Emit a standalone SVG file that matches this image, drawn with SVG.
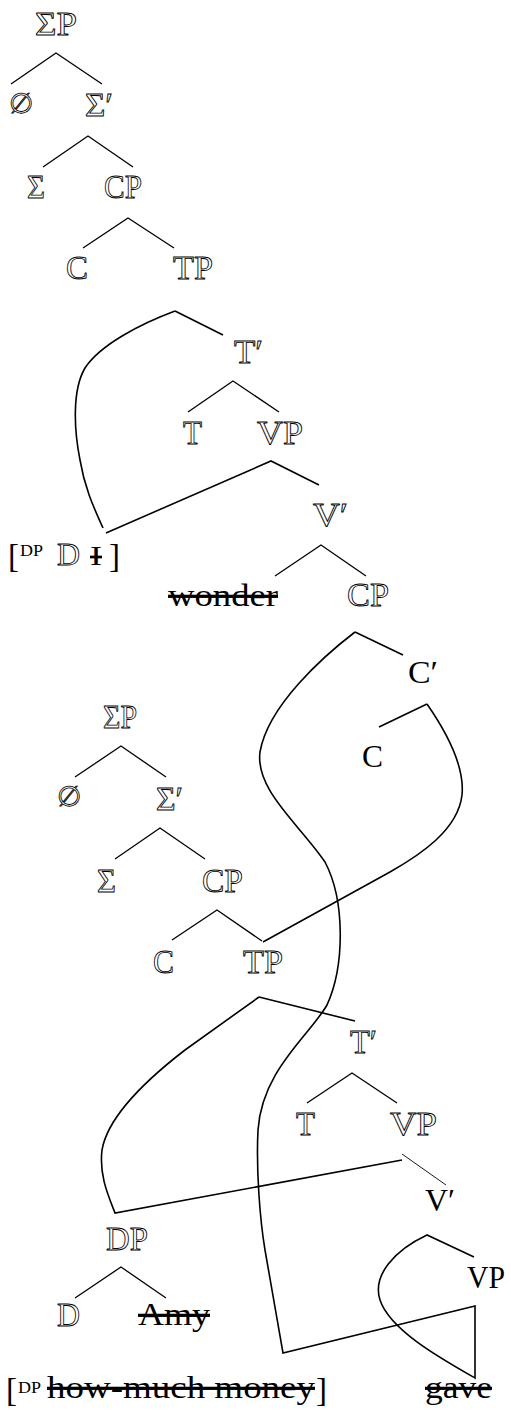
<svg xmlns="http://www.w3.org/2000/svg" width="511" height="1412" viewBox="0 0 511 1412">
<style>
.ol{font-family:"Liberation Serif","DejaVu Serif",serif;font-size:33px;fill:#fff;stroke:#000;stroke-width:0.85px}
.rg{font-family:"Liberation Serif",serif;font-size:32px;fill:#000}
.sm{font-family:"Liberation Serif",serif;font-size:17px;fill:#000}
.st{text-decoration:line-through}
.br{stroke:#000;stroke-width:1.3;fill:none}
.mv{stroke:#000;stroke-width:1.6;fill:none}
.th{stroke:#000;stroke-width:0.9;fill:none}
</style>
<rect width="511" height="1412" fill="#fff"/>
<g id="connectors">
<polyline class="br" points="11,84 56,53 102,84"/>
<polyline class="br" points="43,167 88,136 133,167"/>
<polyline class="br" points="83,248 128,218 174,248"/>
<line class="mv" x1="175" y1="311" x2="223" y2="335"/>
<path class="mv" d="M175,311 C140,324 100,345 85,368 C72,390 74,430 80,460 C85,490 95,510 103,528"/>
<polyline class="br" points="188,412 233,381 279,412"/>
<polyline class="mv" points="106,533 271,461 319,485"/>
<polyline class="br" points="275,576 321,545 366,576"/>
<line class="mv" x1="355" y1="632" x2="403" y2="655"/>
<path class="mv" d="M355,632 C325,655 268,705 260,752 C255,790 300,825 325,862 C345,900 345,965 327,1005 C310,1035 262,1070 258,1130 C256,1170 260,1220 265,1250 L283,1353 L475,1306 L475,1378 C440,1358 390,1330 380,1300 C372,1275 395,1250 427,1235 L474,1257"/>
<line class="mv" x1="427" y1="704" x2="379" y2="727"/>
<path class="mv" d="M427,704 C445,730 465,765 462,795 C458,830 420,855 390,872 L263,942"/>
<polyline class="br" points="75,777 121,746 166,777"/>
<polyline class="br" points="115,859 160,828 205,859"/>
<polyline class="br" points="172,940 217,910 262,941"/>
<line class="mv" x1="259" y1="997" x2="355" y2="1021"/>
<path class="mv" d="M259,997 L185,1050 C150,1077 108,1115 102,1150 C99,1175 108,1195 115,1213 L402,1160"/>
<polyline class="br" points="307,1103 352,1073 397,1103"/>
<line class="th" x1="402" y1="1154" x2="446" y2="1185"/>
<polyline class="br" points="75,1298 121,1267 166,1298"/>
</g>
<g id="n-SigmaP1"><text class="ol" x="35" y="35" textLength="42" lengthAdjust="spacingAndGlyphs">ΣP</text></g>
<g id="n-empty1"><text class="ol" x="9" y="113" style="font-family:'DejaVu Serif',serif;font-size:28px" textLength="24" lengthAdjust="spacingAndGlyphs">∅</text></g>
<g id="n-SigmaBar1"><text class="ol" x="85" y="116" textLength="28" lengthAdjust="spacingAndGlyphs">Σ′</text></g>
<g id="n-Sigma1"><text class="ol" x="27" y="198" textLength="18" lengthAdjust="spacingAndGlyphs">Σ</text></g>
<g id="n-CP1"><text class="ol" x="104" y="198" textLength="38" lengthAdjust="spacingAndGlyphs">CP</text></g>
<g id="n-C1"><text class="ol" x="66" y="279" textLength="22" lengthAdjust="spacingAndGlyphs">C</text></g>
<g id="n-TP1"><text class="ol" x="173" y="279" textLength="40" lengthAdjust="spacingAndGlyphs">TP</text></g>
<g id="n-TBar1"><text class="ol" x="234" y="363" textLength="29" lengthAdjust="spacingAndGlyphs">T′</text></g>
<g id="n-T1"><text class="ol" x="183" y="444" textLength="19" lengthAdjust="spacingAndGlyphs">T</text></g>
<g id="n-VP1"><text class="ol" x="257" y="444" textLength="46" lengthAdjust="spacingAndGlyphs">VP</text></g>
<g id="n-VBar1"><text class="ol" x="313" y="526" textLength="35" lengthAdjust="spacingAndGlyphs">V′</text></g>
<g id="n-DPI">
<text class="rg" x="8" y="567" style="font-size:33px">[</text>
<text class="sm" x="20" y="556" textLength="23" lengthAdjust="spacingAndGlyphs">DP</text>
<text class="ol" x="57" y="565" style="font-size:31px" textLength="23" lengthAdjust="spacingAndGlyphs">D</text>
<text class="rg st" x="90" y="565" style="font-size:27px" textLength="12" lengthAdjust="spacingAndGlyphs">I</text>
<text class="rg" x="109" y="567" style="font-size:33px">]</text>
</g>
<g id="n-wonder"><text class="rg st" x="168" y="606" textLength="110" lengthAdjust="spacingAndGlyphs">wonder</text></g>
<g id="n-CP2"><text class="ol" x="347" y="606" textLength="42" lengthAdjust="spacingAndGlyphs">CP</text></g>
<g id="n-CBar2"><text class="rg" x="408" y="683" textLength="30" lengthAdjust="spacingAndGlyphs">C′</text></g>
<g id="n-C2"><text class="rg" x="362" y="767" textLength="21" lengthAdjust="spacingAndGlyphs">C</text></g>
<g id="n-SigmaP2"><text class="ol" x="103" y="728" textLength="34" lengthAdjust="spacingAndGlyphs">ΣP</text></g>
<g id="n-empty2"><text class="ol" x="57" y="806" style="font-family:'DejaVu Serif',serif;font-size:28px" textLength="24" lengthAdjust="spacingAndGlyphs">∅</text></g>
<g id="n-SigmaBar2"><text class="ol" x="156" y="810" textLength="27" lengthAdjust="spacingAndGlyphs">Σ′</text></g>
<g id="n-Sigma2"><text class="ol" x="97" y="892" textLength="19" lengthAdjust="spacingAndGlyphs">Σ</text></g>
<g id="n-CP3"><text class="ol" x="202" y="892" textLength="41" lengthAdjust="spacingAndGlyphs">CP</text></g>
<g id="n-C3"><text class="ol" x="153" y="973" textLength="21" lengthAdjust="spacingAndGlyphs">C</text></g>
<g id="n-TP2"><text class="ol" x="243" y="973" textLength="40" lengthAdjust="spacingAndGlyphs">TP</text></g>
<g id="n-TBar2"><text class="ol" x="350" y="1053" textLength="27" lengthAdjust="spacingAndGlyphs">T′</text></g>
<g id="n-T2"><text class="ol" x="296" y="1135" textLength="19" lengthAdjust="spacingAndGlyphs">T</text></g>
<g id="n-VP2"><text class="ol" x="390" y="1135" textLength="47" lengthAdjust="spacingAndGlyphs">VP</text></g>
<g id="n-VBar2"><text class="rg" x="425" y="1211" textLength="30" lengthAdjust="spacingAndGlyphs">V′</text></g>
<g id="n-DP"><text class="ol" x="106" y="1250" textLength="42" lengthAdjust="spacingAndGlyphs">DP</text></g>
<g id="n-D"><text class="ol" x="57" y="1326" textLength="23" lengthAdjust="spacingAndGlyphs">D</text></g>
<g id="n-Amy"><text class="rg st" x="138" y="1325" textLength="72" lengthAdjust="spacingAndGlyphs">Amy</text></g>
<g id="n-VP3"><text class="rg" x="467" y="1288" textLength="38" lengthAdjust="spacingAndGlyphs">VP</text></g>
<g id="n-howmuch">
<text class="rg" x="6" y="1401" style="font-size:33px">[</text>
<text class="sm" x="18" y="1393" textLength="23" lengthAdjust="spacingAndGlyphs">DP</text>
<text class="rg st" x="47" y="1398" textLength="268" lengthAdjust="spacingAndGlyphs">how-much money</text>
<text class="rg" x="316" y="1401" style="font-size:33px">]</text>
</g>
<g id="n-gave"><text class="rg st" x="425" y="1398" textLength="67" lengthAdjust="spacingAndGlyphs">gave</text></g>
</svg>
